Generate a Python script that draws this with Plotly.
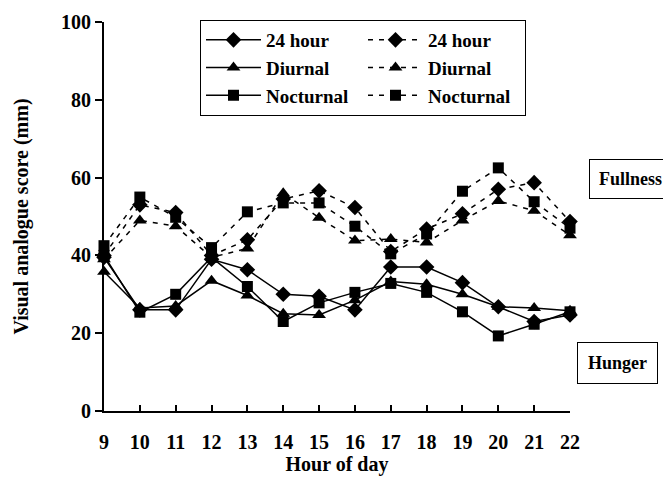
import plotly.graph_objects as go

hours = list(range(9, 23))
tick_labels = [str(h) for h in hours]

# Hunger (solid lines)
hunger_24h = [39.5, 26.0, 26.0, 39.0, 36.3, 30.0, 29.5, 26.0, 37.0, 37.0, 33.0, 26.8, 23.0, 24.7]
hunger_diurnal = [35.8, 26.5, 27.0, 33.5, 29.7, 25.0, 24.7, 28.5, 33.3, 32.6, 30.0, 26.8, 26.5, 25.8]
hunger_nocturnal = [40.0, 25.4, 30.0, 39.5, 32.0, 23.0, 27.8, 30.5, 32.8, 30.5, 25.5, 19.3, 22.3, 25.5]

# Fullness (dashed lines)
full_24h = [40.0, 53.0, 51.0, 40.0, 44.0, 54.5, 56.6, 52.3, 41.0, 46.8, 50.7, 57.0, 58.7, 48.7]
full_diurnal = [39.0, 49.0, 47.5, 39.5, 41.8, 56.0, 49.7, 43.8, 44.2, 43.3, 49.0, 54.0, 51.5, 45.2]
full_nocturnal = [42.5, 55.0, 49.8, 42.0, 51.2, 53.5, 53.5, 47.5, 40.4, 45.5, 56.5, 62.5, 53.8, 47.0]

FONT = "Liberation Serif, Times New Roman, Times, serif"
fig = go.Figure()

specs = [
    (hunger_24h, "24 hour", "diamond", 12, "solid"),
    (full_24h, "24 hour", "diamond", 12, "dash"),
    (hunger_diurnal, "Diurnal", "triangle-up", 12, "solid"),
    (full_diurnal, "Diurnal", "triangle-up", 12, "dash"),
    (hunger_nocturnal, "Nocturnal", "square", 11, "solid"),
    (full_nocturnal, "Nocturnal", "square", 11, "dash"),
]
for vals, name, sym, size, dash in specs:
    fig.add_trace(go.Scatter(
        x=hours, y=vals, name=name, mode="lines+markers",
        line=dict(color="black", width=1.5, dash="solid" if dash == "solid" else "5px,6px"),
        marker=dict(symbol=sym, size=size, color="black"),
        cliponaxis=False,
    ))

# page body has an 8px margin: figure is shrunk so the plot area lands at x 104-570, y 20-411
PL, PR, PT, PB = 104, 570, 20, 411
OFF = 8

def px_x(px):
    return (px - PL) / (PR - PL)

def px_y(py):
    return (PB - py) / (PB - PT)

fig.update_layout(
    width=671 - OFF, height=496 - OFF,
    margin=dict(l=PL - OFF, r=671 - PR, t=PT - OFF, b=496 - PB),
    plot_bgcolor="white", paper_bgcolor="white",
    font=dict(family=FONT, color="black", size=19, weight="bold"),
    showlegend=True,
    legend=dict(
        orientation="h", x=px_x(200), y=px_y(18), xanchor="left", yanchor="top",
        entrywidth=92, entrywidthmode="pixels", itemwidth=55,
        bordercolor="black", borderwidth=1, bgcolor="white",
        font=dict(family=FONT, size=19, weight="bold"),
    ),
    xaxis=dict(
        range=[9, 22], tickmode="array", tickvals=hours, ticktext=tick_labels,
        ticks="inside", ticklen=6, tickwidth=1.5, tickcolor="black",
        showline=True, linecolor="black", linewidth=2, showgrid=False, zeroline=False,
        automargin=False, ticklabelstandoff=12,
        tickfont=dict(size=20, family=FONT, weight="bold"),
        title=dict(text="Hour of day", standoff=2, font=dict(size=20, family=FONT, weight="bold")),
    ),
    yaxis=dict(
        range=[0, 100], dtick=20, ticks="outside", ticklen=7, tickwidth=1.5, tickcolor="black",
        showline=True, linecolor="black", linewidth=2, showgrid=False, zeroline=False,
        automargin=False,
        tickfont=dict(size=20, family=FONT, weight="bold"),
        title=dict(text="Visual analogue score (mm)", standoff=27, font=dict(size=20, family=FONT, weight="bold")),
    ),
    annotations=[
        dict(text="Fullness", xref="paper", yref="paper", x=px_x(630), y=px_y(178),
             xanchor="center", yanchor="middle",
             showarrow=False, bordercolor="black", borderwidth=1, borderpad=9, bgcolor="white",
             font=dict(size=18, family=FONT, weight="bold")),
        dict(text="Hunger", xref="paper", yref="paper", x=px_x(617), y=px_y(363),
             xanchor="center", yanchor="middle",
             showarrow=False, bordercolor="black", borderwidth=1, borderpad=10, bgcolor="white",
             font=dict(size=18, family=FONT, weight="bold")),
    ],
)

fig.write_html("out.html")
